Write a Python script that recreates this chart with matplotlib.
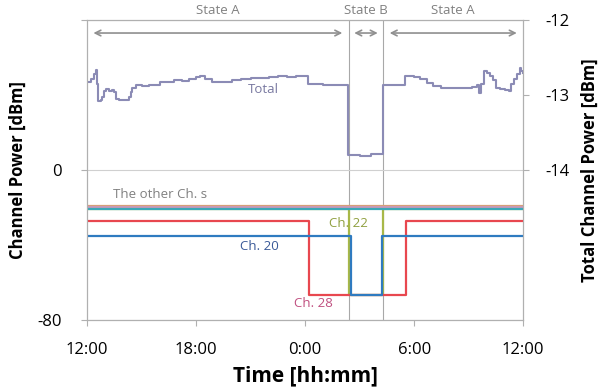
import matplotlib.pyplot as plt

# time in hours from 12:00 (0) to 12:00 next day (24)
total_t = [0, 0.2, 0.4, 0.5, 0.55, 0.62, 0.75, 0.85, 0.95, 1.05, 1.2, 1.35, 1.5,
           1.6, 1.75, 2.1, 2.3, 2.4, 2.5, 2.7, 3.0, 3.4, 3.8, 4.0, 4.4, 4.8, 5.2,
           5.6, 6.0, 6.2, 6.5, 6.9, 7.2, 7.6, 8.0, 8.5, 9.0, 9.5, 10.0, 10.5, 11.0,
           11.5, 12.17, 13.0, 13.8, 14.38, 15.0, 15.6, 16.29, 17.5, 18.0, 18.3,
           18.7, 19.05, 19.5, 20.0, 20.6, 21.2, 21.45, 21.55, 21.7, 21.85, 22.0,
           22.2, 22.35, 22.5, 22.7, 23.0, 23.2, 23.35, 23.5, 23.65, 23.8, 23.9, 24]
total_v = [-12.82, -12.78, -12.72, -12.66, -12.85, -13.08, -13.06, -13.02, -12.95,
           -12.92, -12.94, -12.93, -12.96, -13.05, -13.07, -13.06, -13.02, -12.96,
           -12.90, -12.87, -12.88, -12.86, -12.87, -12.83, -12.82, -12.80, -12.81,
           -12.79, -12.76, -12.74, -12.78, -12.82, -12.83, -12.82, -12.80, -12.78,
           -12.77, -12.77, -12.76, -12.75, -12.76, -12.75, -12.85, -12.86, -12.87,
           -13.80, -13.81, -13.79, -12.87, -12.75, -12.76, -12.79, -12.84, -12.88,
           -12.90, -12.91, -12.90, -12.89, -12.86, -12.97, -12.85, -12.68, -12.71,
           -12.74, -12.80, -12.90, -12.92, -12.93, -12.94, -12.85, -12.78, -12.72,
           -12.64, -12.68, -12.70]

ch28_t = [0, 12.2, 17.56, 24]
ch28_v = [-27, -66.5, -27, -27]
ch20_t = [0, 14.5, 16.24, 24]
ch20_v = [-35, -66.5, -35, -35]
ch22_t = [0, 14.4, 16.3, 24]
ch22_v = [-20.5, -66.5, -20.5, -20.5]
other_levels = [-18.9, -19.7, -20.8]
other_colors = ['#D8A070', '#C89AB8', '#3AA8B8']

state_b = (14.4, 16.3)
xticks = [0, 6, 12, 18, 24]
xlabels = ['12:00', '18:00', '0:00', '6:00', '12:00']

plt.rcParams['font.family'] = ['Open Sans', 'DejaVu Sans']

fig = plt.figure(figsize=(6, 3.87), dpi=100)
ax = fig.add_axes([0.145, 0.173, 0.727, 0.775])
ax2 = ax.twinx()

ax.step(ch22_t, ch22_v, where='post', color='#A8B848', lw=1.6, zorder=2)
for lv, c in zip(other_levels, other_colors):
    ax.plot([0, 24], [lv, lv], color=c, lw=1.6, zorder=3)
ax.step(ch28_t, ch28_v, where='post', color='#E8474F', lw=1.6, zorder=4)
ax.step(ch20_t, ch20_v, where='post', color='#2F7BC0', lw=1.6, zorder=5)
ax2.step(total_t, total_v, where='post', color='#8B8BB5', lw=1.5)

for xb in state_b:
    ax.axvline(xb, color='#A8A8A8', lw=0.8, zorder=1)

ax.set_xlim(0, 24)
ax.set_ylim(-80, 80)
ax2.set_ylim(-16, -12)
ax.set_xticks(xticks)
ax.set_xticklabels(xlabels, fontsize=12)
ax.set_yticks([-80, 0, 80])
ax.set_yticklabels(['-80', '0', ''], fontsize=12)
ax2.set_yticks([-14, -13, -12])
ax2.set_yticklabels(['-14', '-13', '-12'], fontsize=12)
ax.grid(axis='y', color='#D0D0D0', lw=0.8)

for a in (ax, ax2):
    for s in a.spines.values():
        s.set_color('#B0B0B0')
    a.tick_params(color='#B0B0B0', length=4)
ax.tick_params(axis='y', pad=14)
ax.tick_params(axis='x', pad=12)
ax2.tick_params(axis='y', pad=12)

ax.set_xlabel('Time [hh:mm]', fontsize=15, fontweight='bold', labelpad=5)
ax.set_ylabel('Channel Power [dBm]', fontsize=12, fontweight='bold', labelpad=8)
ax2.set_ylabel('Total Channel Power [dBm]', fontsize=12, fontweight='bold', labelpad=8)

# state arrows and labels
arrow_kw = dict(arrowstyle='<->', color='#909090', lw=1.2)
for x0, x1, lbl in [(0.2, 14.2, 'State A'), (14.55, 16.15, 'State B'), (16.5, 23.8, 'State A')]:
    ax.annotate('', xy=(x0, 0.957), xytext=(x1, 0.957),
                xycoords=('data', 'axes fraction'), arrowprops=arrow_kw)
    ax.text((x0 + x1) / 2, 1.01, lbl, transform=ax.get_xaxis_transform(),
            ha='center', va='bottom', fontsize=9.5, color='#808080')

ax2.text(9.7, -12.93, 'Total', ha='center', va='center', fontsize=9.5, color='#7878A0')
ax.text(4.0, -13, 'The other Ch. s', ha='center', va='center', fontsize=9.5, color='#808080')
ax.text(14.4, -28.5, 'Ch. 22', ha='center', va='center', fontsize=9.5, color='#90A040')
ax.text(9.5, -41, 'Ch. 20', ha='center', va='center', fontsize=9.5, color='#3A5A98')
ax.text(12.45, -71, 'Ch. 28', ha='center', va='center', fontsize=9.5, color='#C05080')

fig.savefig('out.png', dpi=100)
